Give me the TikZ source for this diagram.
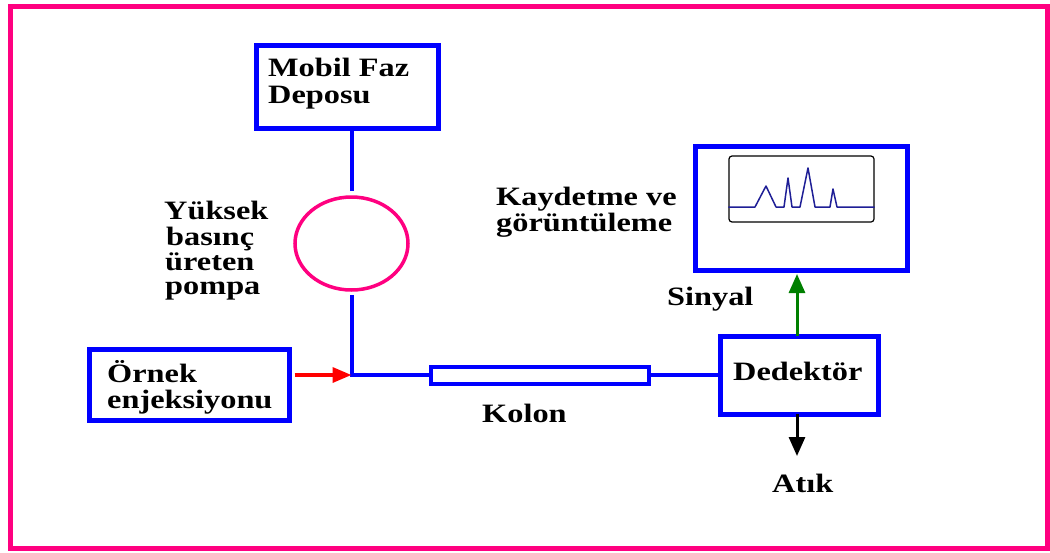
\documentclass[tikz,border=0pt]{standalone}
\usepackage{fontspec}
\newfontfamily\lblfont[FakeStretch=1.22]{Liberation Serif}
\usetikzlibrary{arrows.meta,shapes.geometric}
\definecolor{fpink}{RGB}{255,0,128}
\definecolor{fblue}{RGB}{0,0,255}
\definecolor{fgreen}{RGB}{0,128,0}
\definecolor{fnavy}{RGB}{30,30,150}
\begin{document}
\begin{tikzpicture}[x=1pt,y=-1pt,
  box/.style={draw=fblue,line width=5pt,inner sep=0pt,outer sep=0pt},
  lbl/.style={font=\lblfont\bfseries\fontsize{26.5}{26}\selectfont,inner sep=0pt,anchor=base west},
  pipe/.style={draw=fblue,line width=4pt},
  sigarrow/.style={line width=3pt,-{Triangle[length=19pt,width=16pt]}}]
\useasboundingbox (0,0) rectangle (1050,552);
\fill[white] (0,0) rectangle (1050,552);
\draw[fpink,line width=5pt] (10,6) rectangle (1047,548);

% boxes
\node[box,minimum width=182pt,minimum height=83pt] (depo) at (347,86.5) {};
\node[box,minimum width=212pt,minimum height=124pt] (rec) at (801.5,208.5) {};
\node[box,minimum width=158pt,minimum height=78pt] (det) at (799.5,375) {};
\node[box,minimum width=200pt,minimum height=71pt] (ornek) at (189.5,385) {};
\node[box,line width=4pt,minimum width=218pt,minimum height=17pt] (kolon) at (540,375) {};
\node[draw=fpink,line width=3.5pt,ellipse,inner sep=0pt,outer sep=0pt,
      minimum width=113pt,minimum height=93pt] (pump) at (351.5,243.5) {};

% screen with chromatogram
\node[draw=black,line width=1.2pt,rounded corners=3pt,inner sep=0pt,
      minimum width=145pt,minimum height=66pt] (screen) at (801.5,189) {};
\draw[fnavy,line width=1.5pt,line join=round]
  (screen.west |- 0,207) -- (755,207) -- (766,186) -- (776,207) -- (784,207)
  -- (788,178) -- (792,207) -- (800,207) -- (808,168) -- (815,207) -- (830,207)
  -- (833,189) -- (837,207) -- (screen.east |- 0,207);

% pipes
\coordinate (junc) at (351.5,375);
\draw[pipe] (pump.north |- depo.south) -- ([yshift=6pt]pump.north);
\draw[pipe] ([yshift=-5pt]pump.south) -- (junc) -- (kolon.west);
\draw[pipe] (kolon.east) -- (det.west);

% arrows
\draw[red,line width=3.5pt,-{Triangle[length=19pt,width=15pt]}]
  ([xshift=5pt]ornek.east |- junc) -- (junc);
\coordinate (sigtop) at (797,274);
\coordinate (atik) at (797,456);
\draw[fgreen,sigarrow] (det.north -| sigtop) -- (sigtop);
\draw[black,sigarrow] (det.south -| atik) -- (atik);

% labels
\node[lbl] (t1a) at (268,76) {Mobil Faz};
\node[lbl] (t1b) at (268,103) {Deposu};
\node[lbl] (t2a) at (164,219) {Yüksek};
\node[lbl] (t2b) at (166,245) {basınç};
\node[lbl] (t2c) at (165,270) {üreten};
\node[lbl] (t2d) at (165,294) {pompa};
\node[lbl] (t3a) at (496,205) {Kaydetme ve};
\node[lbl] (t3b) at (496,231) {görüntüleme};
\node[lbl] (t4) at (667,305) {Sinyal};
\node[lbl] (t5a) at (107,382) {Örnek};
\node[lbl] (t5b) at (107,408) {enjeksiyonu};
\node[lbl] (t6) at (482,422) {Kolon};
\node[lbl] (t7) at (733,380) {Dedektör};
\node[lbl] (t8) at (772,492) {Atık};
\end{tikzpicture}
\end{document}
